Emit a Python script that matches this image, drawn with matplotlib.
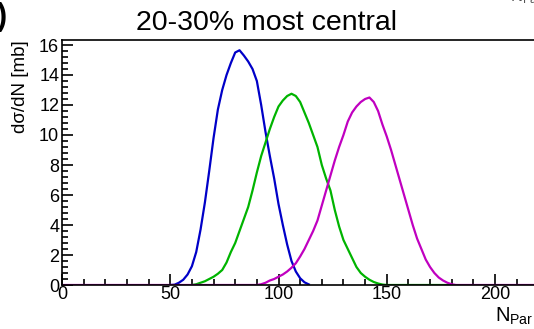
import numpy as np
import matplotlib.pyplot as plt
from matplotlib.ticker import MultipleLocator

plt.rcParams['font.family'] = ['Liberation Sans', 'DejaVu Sans']
plt.rcParams['mathtext.fontset'] = 'custom'
plt.rcParams['mathtext.rm'] = 'Liberation Sans'
plt.rcParams['mathtext.it'] = 'Liberation Sans'

# N_Par bin centres and dsigma/dN [mb] for the three curves
blue_n = np.arange(50, 116, 2)
blue_val = [0.0, 0.02, 0.15, 0.35, 0.7, 1.25, 2.2, 3.7, 5.5, 7.6, 9.8, 11.7, 13.0,
            14.0, 14.8, 15.5, 15.65, 15.3, 14.9, 14.4, 13.6, 12.0, 10.2, 8.6, 7.1,
            5.4, 4.0, 2.7, 1.6, 0.9, 0.45, 0.18, 0.04]

green_n = np.arange(60, 182, 2)
green_val = [0.0, 0.05, 0.15, 0.25, 0.4, 0.55, 0.75, 1.0, 1.5, 2.2, 2.8, 3.6, 4.4,
             5.2, 6.3, 7.5, 8.6, 9.5, 10.4, 11.2, 11.9, 12.3, 12.6, 12.75, 12.6,
             12.2, 11.5, 10.8, 10.0, 9.2, 8.0, 7.1, 6.3, 5.0, 3.9, 3.0, 2.4, 1.8,
             1.2, 0.8, 0.55, 0.35, 0.2, 0.1, 0.03,
             0, 0, 0, 0, 0, 0, 0, 0, 0, 0, 0, 0, 0, 0, 0, 0]

magenta_n = np.arange(0, 222, 2)
magenta_val = [0] * 46 + [
    0.05, 0.15, 0.3, 0.4, 0.55, 0.7, 0.9, 1.15, 1.45, 1.9, 2.4, 3.0, 3.6, 4.3,
    5.3, 6.3, 7.3, 8.3, 9.2, 10.0, 10.9, 11.5, 11.9, 12.2, 12.4, 12.5, 12.2,
    11.6, 10.7, 9.9, 9.0, 8.0, 7.0, 6.0, 5.0, 4.0, 3.1, 2.4, 1.7, 1.2, 0.8, 0.5,
    0.3, 0.15, 0.05] + [0] * 20

fig = plt.figure(figsize=(5.34, 3.29), dpi=100)
ax = fig.add_axes([62 / 534, 44 / 329, 480 / 534, 245 / 329])

ax.plot(blue_n, blue_val, color='#0000c8', lw=1.6)
ax.plot(green_n, green_val, color='#00b400', lw=1.6)
ax.plot(magenta_n, magenta_val, color='#c000c0', lw=1.6)

ax.set_xlim(0, 480 / 2.165)
ax.set_ylim(0, 245 / 15)
ax.xaxis.set_major_locator(MultipleLocator(50))
ax.xaxis.set_minor_locator(MultipleLocator(10))
ax.yaxis.set_major_locator(MultipleLocator(2))
ax.yaxis.set_minor_locator(MultipleLocator(0.4))
ax.tick_params(which='both', direction='in', top=False, right=False,
               labelsize=13, width=1.2, pad=1)
ax.tick_params(axis='y', pad=2)
ax.tick_params(which='major', length=8)
ax.tick_params(which='minor', length=4)
for s in ax.spines.values():
    s.set_linewidth(1.2)

ax.set_ylabel('dσ/dN [mb]', fontsize=13.5, loc='top')
ax.yaxis.set_label_coords(-33 / 480, 1.0)
fig.text(0.999, 0.07, '$N_{\\mathrm{Par}}$', fontsize=14.5, ha='right', va='top')
fig.text(0.5, 0.909, '20-30% most central', fontsize=20.5, ha='center', va='baseline')

# bits of the neighbouring panels that are cut off
fig.text(-0.006, 0.995, ')', fontsize=22, ha='left', va='top', fontweight='bold')
fig.text(0.955, 1.04, '$N_{\\mathrm{Par}}$', fontsize=12, ha='left', va='top', color='#555555')

fig.savefig('out.png', dpi=100)
